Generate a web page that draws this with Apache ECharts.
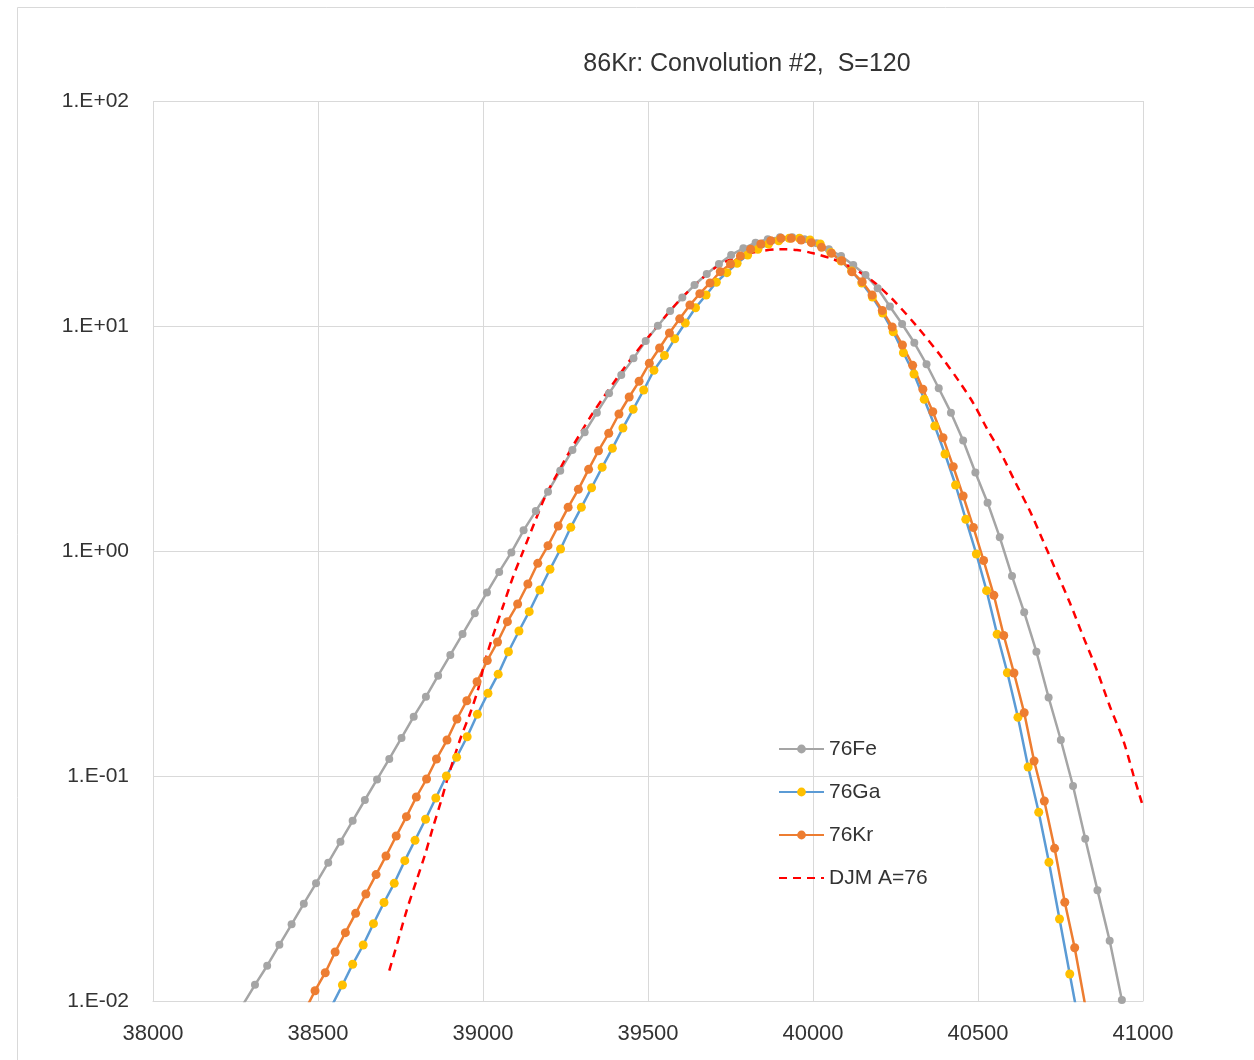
<!DOCTYPE html>
<html>
<head>
<meta charset="utf-8">
<style>
  html, body { margin: 0; padding: 0; background: #fff; }
  #chart { width: 1254px; height: 1060px; }
</style>
<script src="https://cdn.jsdelivr.net/npm/echarts@6/dist/echarts.min.js"></script>
</head>
<body>
<div id="chart"></div>
<script>
// 76Fe (grey) — x positions and values
const xFe = [38272, 38309, 38346, 38383, 38420, 38457, 38494, 38531, 38568, 38605,
  38642, 38679, 38716, 38753, 38790, 38827, 38864, 38901, 38938, 38975,
  39012, 39049, 39086, 39123, 39160, 39197, 39234, 39271, 39308, 39345,
  39382, 39419, 39456, 39493, 39530, 39567, 39604, 39641, 39678, 39715,
  39752, 39789, 39826, 39863, 39900, 39937, 39974, 40011, 40048, 40085,
  40122, 40159, 40196, 40233, 40270, 40307, 40344, 40381, 40418, 40455,
  40492, 40529, 40566, 40603, 40640, 40677, 40714, 40751, 40788, 40825,
  40862, 40899, 40936, 40973]
const yFe = [0.0096, 0.0118, 0.01435, 0.01778, 0.02193, 0.02706, 0.03334, 0.04118, 0.05105, 0.06324,
  0.07822, 0.0965, 0.1191, 0.1476, 0.1835, 0.2249, 0.2792, 0.3451, 0.4276, 0.5284,
  0.6546, 0.807, 0.986, 1.236, 1.505, 1.835, 2.275, 2.811, 3.372, 4.12,
  5.02, 6.06, 7.18, 8.58, 10.02, 11.66, 13.39, 15.21, 17.02, 18.86,
  20.69, 22.15, 23.46, 24.29, 24.79, 24.79, 24.29, 23.32, 21.93, 20.47,
  18.67, 16.85, 14.71, 12.21, 10.21, 8.42, 6.76, 5.29, 4.12, 3.10,
  2.233, 1.640, 1.150, 0.774, 0.534, 0.3567, 0.2233, 0.1445, 0.0903, 0.0526,
  0.0311, 0.01854, 0.0101, 0.0052]

// 76Ga (blue line, yellow markers)
const xGa = [38542, 38574, 38605, 38637, 38668, 38700, 38731, 38763, 38794, 38826,
  38857, 38889, 38920, 38952, 38983, 39015, 39046, 39077, 39109, 39140,
  39172, 39203, 39235, 39266, 39298, 39329, 39361, 39392, 39424, 39455,
  39487, 39518, 39550, 39581, 39613, 39644, 39676, 39707, 39739, 39770,
  39802, 39833, 39865, 39896, 39928, 39959, 39991, 40022, 40054, 40085,
  40117, 40148, 40180, 40211, 40243, 40274, 40306, 40337, 40369, 40400,
  40432, 40463, 40495, 40526, 40558, 40589, 40621, 40652, 40684, 40715,
  40747, 40778, 40810]
const yGa = [0.00953, 0.01178, 0.01456, 0.01774, 0.02206, 0.0274, 0.03334, 0.04204, 0.05178, 0.06421,
  0.07984, 0.1, 0.1211, 0.1495, 0.188, 0.2331, 0.2835, 0.3567, 0.441, 0.5374,
  0.6709, 0.8292, 1.021, 1.274, 1.564, 1.911, 2.355, 2.86, 3.522, 4.264,
  5.195, 6.356, 7.392, 8.773, 10.31, 12.05, 13.73, 15.65, 17.26, 19.0,
  20.69, 21.93, 23.14, 23.94, 24.54, 24.54, 24.11, 23.14, 21.21, 19.45,
  17.56, 15.53, 13.45, 11.42, 9.434, 7.607, 6.118, 4.722, 3.594, 2.698,
  1.965, 1.383, 0.9698, 0.6662, 0.4268, 0.2878, 0.1823, 0.1096, 0.069, 0.04135,
  0.02315, 0.01318, 0.0074]

// 76Kr (orange)
const xKr = [38460, 38491, 38522, 38552, 38583, 38614, 38645, 38676, 38706, 38737,
  38768, 38798, 38829, 38859, 38891, 38921, 38951, 38982, 39013, 39044,
  39074, 39105, 39136, 39166, 39197, 39228, 39258, 39289, 39320, 39350,
  39381, 39412, 39443, 39473, 39504, 39535, 39565, 39596, 39627, 39657,
  39688, 39719, 39750, 39780, 39811, 39842, 39872, 39903, 39934, 39964,
  39995, 40026, 40056, 40087, 40118, 40149, 40179, 40210, 40240, 40271,
  40302, 40333, 40363, 40394, 40425, 40455, 40486, 40517, 40548, 40578,
  40609, 40640, 40670, 40701, 40732, 40763, 40793, 40824]
const yKr = [0.00903, 0.01111, 0.01336, 0.01651, 0.02012, 0.02453, 0.02989, 0.03646, 0.0441, 0.05412,
  0.06595, 0.08066, 0.09698, 0.119, 0.1445, 0.1792, 0.2161, 0.2625, 0.3262, 0.394,
  0.4851, 0.5813, 0.7137, 0.8816, 1.056, 1.291, 1.564, 1.88, 2.307, 2.791,
  3.336, 4.063, 4.835, 5.678, 6.828, 7.984, 9.309, 10.76, 12.4, 13.92,
  15.53, 17.43, 18.86, 20.47, 21.93, 23.14, 23.94, 24.54, 24.54, 24.11,
  23.46, 22.37, 21.04, 19.51, 17.43, 15.73, 13.73, 11.72, 9.9, 8.232,
  6.688, 5.232, 4.16, 3.188, 2.37, 1.756, 1.272, 0.9074, 0.6355, 0.4211,
  0.287, 0.1911, 0.1166, 0.0774, 0.0477, 0.02746, 0.01725, 0.00973]

// DJM A=76 (red dashed)
const xDjm = [38716, 38743, 38769, 38799, 38824, 38849, 38873, 38895, 38930, 38961,
  38986, 39006, 39039, 39062, 39092, 39122, 39158, 39188, 39223, 39258,
  39294, 39329, 39370, 39405, 39455, 39526, 39587, 39648, 39708, 39769,
  39829, 39900, 39951, 40001, 40062, 40122, 40183, 40243, 40314, 40385,
  40445, 40486, 40526, 40567, 40612, 40658, 40698, 40738, 40779, 40819,
  40860, 40900, 40940, 40971, 41000]
const yDjm = [0.01364, 0.01867, 0.02537, 0.03449, 0.04456, 0.0595, 0.0774, 0.1, 0.1445, 0.19,
  0.2453, 0.3245, 0.4595, 0.5754, 0.774, 1.0, 1.359, 1.738, 2.176, 2.698,
  3.311, 4.022, 4.936, 5.843, 7.356, 9.9, 12.62, 15.48, 18.35, 20.32,
  21.39, 21.93, 21.77, 21.04, 19.79, 18.05, 15.73, 13.05, 10.0, 7.43,
  5.609, 4.533, 3.522, 2.768, 2.036, 1.498, 1.102, 0.8066, 0.5856, 0.416,
  0.2959, 0.2032, 0.1445, 0.101, 0.0731]

const xTicks = [38000, 38500, 39000, 39500, 40000, 40500, 41000]

const pairs = (xs, ys) => xs.map((x, i) => [x, ys[i]])

const fmtExp = v => {
  const e = Math.round(Math.log10(v))
  return '1.E' + (e < 0 ? '-' : '+') + String(Math.abs(e)).padStart(2, '0')
}

const font = 'Liberation Sans, Arial, sans-serif'
const chart = echarts.init(document.getElementById('chart'))

chart.setOption({
  animation: false,
  backgroundColor: '#fff',
  graphic: [
    {
      type: 'rect',
      shape: { x: 17.5, y: 7.5, width: 1300, height: 1100 },
      style: { fill: 'none', stroke: '#d9d9d9', lineWidth: 1 },
      silent: true
    },
    {
      type: 'text',
      x: 747,
      y: 64,
      style: {
        text: '86Kr: Convolution #2,  S=120',
        font: '25px ' + font,
        fill: '#333',
        align: 'center',
        verticalAlign: 'middle'
      }
    }
  ],
  grid: { left: 153, top: 101, width: 990, height: 900, containLabel: false },
  legend: {
    orient: 'vertical',
    left: 773,
    top: 733,
    itemWidth: 45,
    itemHeight: 11,
    itemGap: 21,
    textStyle: { fontSize: 21, fontFamily: font, color: '#333', lineHeight: 22 },
    data: ['76Fe', '76Ga', '76Kr', { name: 'DJM A=76', itemStyle: { opacity: 0 } }]
  },
  xAxis: {
    type: 'value',
    min: xTicks[0],
    max: xTicks[xTicks.length - 1],
    interval: 500,
    axisLine: { show: true, lineStyle: { color: '#d9d9d9', width: 1 } },
    axisTick: { show: false },
    axisLabel: { fontSize: 22, fontFamily: font, color: '#333', margin: 22, formatter: v => String(v) },
    splitLine: { show: true, lineStyle: { color: '#d9d9d9', width: 1 } }
  },
  yAxis: {
    type: 'log',
    logBase: 10,
    min: 0.01,
    max: 100,
    axisLine: { show: false },
    axisTick: { show: false },
    axisLabel: { fontSize: 21, fontFamily: font, color: '#333', margin: 24, formatter: fmtExp },
    splitLine: { show: true, lineStyle: { color: '#d9d9d9', width: 1 } }
  },
  series: [
    {
      name: '76Fe',
      type: 'line',
      data: pairs(xFe, yFe),
      symbol: 'circle',
      symbolSize: 8,
      lineStyle: { color: '#a5a5a5', width: 2.5 },
      itemStyle: { color: '#a5a5a5' }
    },
    {
      name: '76Ga',
      type: 'line',
      data: pairs(xGa, yGa),
      symbol: 'circle',
      symbolSize: 9,
      lineStyle: { color: '#5b9bd5', width: 2.5 },
      itemStyle: { color: '#ffc000' }
    },
    {
      name: '76Kr',
      type: 'line',
      data: pairs(xKr, yKr),
      symbol: 'circle',
      symbolSize: 9,
      lineStyle: { color: '#ed7d31', width: 2.5 },
      itemStyle: { color: '#ed7d31' }
    },
    {
      name: 'DJM A=76',
      type: 'line',
      data: pairs(xDjm, yDjm),
      symbol: 'none',
      smooth: 0.3,
      lineStyle: { color: '#ff0000', width: 2.5, type: [8, 6] },
      itemStyle: { color: '#ff0000' }
    }
  ]
})
</script>
</body>
</html>
